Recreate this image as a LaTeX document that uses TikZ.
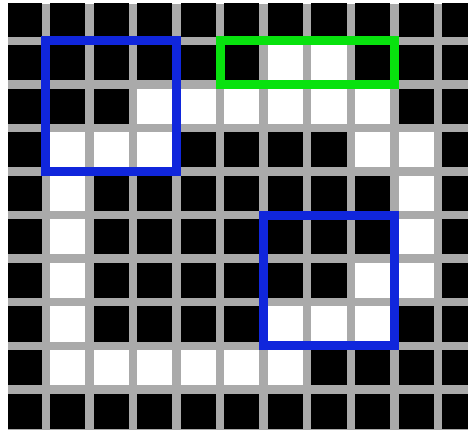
\documentclass[tikz,border=0pt]{standalone}
\usepackage{tikz}
\definecolor{gridgray}{RGB}{170,170,170}
\definecolor{frameblue}{RGB}{16,38,220}
\definecolor{framegreen}{RGB}{8,226,14}
\newcommand{\pitch}{43.55}
\newcommand{\cellsz}{35.15}
\tikzset{
  cell/.style={fill=black},
  litcell/.style={fill=white},
  window/.style={draw, line width=9pt}
}

\begin{document}
\begin{tikzpicture}[x=1pt, y=-1pt]
\useasboundingbox (0,0) rectangle (468,430);
\clip (8,4) rectangle (468,430);
\fill[gridgray] (8,4) rectangle (468,430);
% all cells dark first
\foreach \c in {0,...,10}
  \foreach \r in {0,...,9}
    \fill[cell] ({6.55+\c*\pitch},{1.55+\r*\pitch}) rectangle ++(\cellsz,\cellsz);
% the white path
\foreach \c/\r in {6/1,7/1,
                   3/2,4/2,5/2,6/2,7/2,8/2,
                   1/3,2/3,3/3,8/3,9/3,
                   1/4,9/4, 1/5,9/5,
                   1/6,8/6,9/6,
                   1/7,6/7,7/7,8/7,
                   1/8,2/8,3/8,4/8,5/8,6/8}
  \fill[litcell] ({6.55+\c*\pitch},{1.55+\r*\pitch}) rectangle ++(\cellsz,\cellsz);
% windows, on the grid lines
\draw[window, frameblue] ({45.9+0*\pitch},{40.9+0*\pitch}) rectangle ({45.9+3*\pitch},{40.9+3*\pitch});
\draw[window, framegreen] ({45.9+4*\pitch},{40.9+0*\pitch}) rectangle ({45.9+8*\pitch},{40.9+1*\pitch});
\draw[window, frameblue] ({45.9+5*\pitch},{40.9+4*\pitch}) rectangle ({45.9+8*\pitch},{40.9+7*\pitch});
\end{tikzpicture}
\end{document}
